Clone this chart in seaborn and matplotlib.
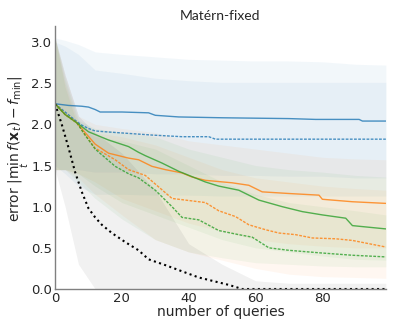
import numpy as np
import matplotlib
matplotlib.use("Agg")
import matplotlib.pyplot as plt
import seaborn as sns

# mean curves (x positions where the value was read, and the value)
blue_x = [0, 4, 8, 10, 12, 13.5, 20, 28, 30, 37, 50, 60, 70, 78, 91, 92, 99]
blue_y = [2.25, 2.23, 2.22, 2.21, 2.18, 2.15, 2.15, 2.14, 2.11, 2.09, 2.08, 2.075, 2.07, 2.06, 2.06, 2.04, 2.04]

blue_d_x = [0, 3, 6, 8, 10, 12, 15, 22, 29, 38, 46, 48, 99]
blue_d_y = [2.25, 2.15, 2.05, 1.99, 1.95, 1.92, 1.91, 1.89, 1.87, 1.85, 1.85, 1.82, 1.82]

orange_x = [0, 3, 6.5, 9, 12, 16, 22, 25, 29, 33, 38, 41, 45, 53, 58, 62, 70, 79, 80, 89, 99]
orange_y = [2.25, 2.12, 2.02, 1.90, 1.76, 1.65, 1.59, 1.57, 1.49, 1.45, 1.41, 1.36, 1.32, 1.29, 1.26, 1.18, 1.16, 1.14, 1.09, 1.06, 1.04]

green_x = [0, 3, 6.5, 10, 16, 22, 25, 27, 32, 37, 45, 49, 55, 61, 68, 74, 80, 87, 89, 99]
green_y = [2.25, 2.12, 2.02, 1.91, 1.81, 1.73, 1.66, 1.62, 1.53, 1.43, 1.30, 1.25, 1.20, 1.08, 1.00, 0.94, 0.90, 0.86, 0.77, 0.73]

orange_d_x = [0, 3, 6.5, 9, 12, 18, 22, 27, 31, 35, 41, 45, 49, 54, 58, 63, 67, 72, 77, 84, 89, 94, 99]
orange_d_y = [2.25, 2.12, 2.02, 1.87, 1.71, 1.57, 1.45, 1.38, 1.24, 1.10, 1.07, 1.05, 0.95, 0.88, 0.78, 0.72, 0.68, 0.66, 0.62, 0.61, 0.59, 0.55, 0.51]

green_d_x = [0, 3, 6.5, 9, 12, 18, 22, 25, 30, 35, 38, 43, 49, 55, 59, 64, 70, 79, 89, 99]
green_d_y = [2.25, 2.12, 2.02, 1.87, 1.70, 1.49, 1.40, 1.35, 1.20, 1.00, 0.87, 0.84, 0.71, 0.66, 0.63, 0.50, 0.47, 0.44, 0.41, 0.39]

black_x = [0, 2, 4, 6, 8, 10, 12, 14, 17, 21, 25, 28, 33, 37, 43, 48, 52, 56, 99]
black_y = [2.25, 2.0, 1.72, 1.42, 1.18, 0.98, 0.87, 0.78, 0.68, 0.57, 0.47, 0.36, 0.29, 0.23, 0.14, 0.09, 0.05, 0.0, 0.0]

# spread bands, read at shared x positions
band_x = [0, 3, 7, 12, 20, 30, 40, 50, 60, 70, 80, 90, 99]
blue_up = [3.05, 3.02, 2.97, 2.88, 2.85, 2.82, 2.79, 2.78, 2.77, 2.77, 2.76, 2.73, 2.72]
blue_lo = [1.45, 1.45, 1.45, 1.42, 1.42, 1.40, 1.40, 1.38, 1.38, 1.37, 1.37, 1.35, 1.35]
blue_d_up = [3.0, 2.95, 2.85, 2.66, 2.62, 2.56, 2.53, 2.51, 2.51, 2.51, 2.51, 2.51, 2.51]
blue_d_lo = [1.5, 1.4, 1.25, 1.15, 1.15, 1.14, 1.14, 1.13, 1.13, 1.13, 1.13, 1.13, 1.13]
orange_up = [3.05, 2.6, 2.1, 2.0, 1.95, 1.9, 1.8, 1.75, 1.7, 1.65, 1.6, 1.58, 1.57]
orange_lo = [1.45, 1.45, 1.4, 1.3, 1.1, 0.95, 0.8, 0.7, 0.6, 0.55, 0.52, 0.5, 0.5]
green_up = [3.05, 2.55, 2.05, 1.95, 1.9, 1.85, 1.7, 1.6, 1.5, 1.45, 1.42, 1.38, 1.36]
green_lo = [1.45, 1.45, 1.4, 1.25, 1.05, 0.9, 0.75, 0.6, 0.5, 0.45, 0.4, 0.36, 0.35]
orange_d_up = [3.05, 2.5, 2.0, 1.9, 1.85, 1.75, 1.6, 1.45, 1.35, 1.3, 1.25, 1.22, 1.2]
orange_d_lo = [1.45, 1.45, 1.35, 1.15, 0.9, 0.6, 0.45, 0.35, 0.25, 0.18, 0.15, 0.14, 0.13]
green_d_up = [3.05, 2.45, 1.95, 1.85, 1.8, 1.7, 1.5, 1.3, 1.15, 1.05, 1.0, 0.95, 0.9]
green_d_lo = [1.45, 1.45, 1.3, 1.1, 0.85, 0.6, 0.45, 0.38, 0.32, 0.3, 0.28, 0.27, 0.27]
black_up = [3.05, 2.6, 2.1, 1.9, 1.65, 1.2, 0.55, 0.3, 0.1, 0.07, 0.07, 0.07, 0.07]
black_lo = [1.45, 1.0, 0.3, 0.0, 0.0, 0.0, 0.0, 0.0, 0.0, 0.0, 0.0, 0.0, 0.0]

sns.set_style("white")
plt.rcParams["font.family"] = ["DejaVu Sans"]

fig, ax = plt.subplots(figsize=(3.99, 3.32), dpi=100)
fig.subplots_adjust(left=0.138, right=0.967, bottom=0.1295, top=0.923)

blue, orange, green = "#1f77b4", "#ff7f0e", "#2ca02c"

bands = [
    (blue_up, blue_lo, blue), (blue_d_up, blue_d_lo, blue),
    (orange_up, orange_lo, orange), (green_up, green_lo, green),
    (orange_d_up, orange_d_lo, orange), (green_d_up, green_d_lo, green),
    (black_up, black_lo, "black"),
]
for up, lo, c in bands:
    ax.fill_between(band_x, lo, up, color=c, alpha=0.055, lw=0)

sns.lineplot(x=blue_x, y=blue_y, color=blue, lw=1, alpha=0.8, ax=ax)
sns.lineplot(x=blue_d_x, y=blue_d_y, color=blue, lw=1, alpha=0.8, ax=ax).lines[-1].set_dashes((2, 1))
sns.lineplot(x=orange_x, y=orange_y, color=orange, lw=1, alpha=0.8, ax=ax)
sns.lineplot(x=green_x, y=green_y, color=green, lw=1, alpha=0.8, ax=ax)
sns.lineplot(x=orange_d_x, y=orange_d_y, color=orange, lw=1, alpha=0.8, ax=ax).lines[-1].set_dashes((2, 1))
sns.lineplot(x=green_d_x, y=green_d_y, color=green, lw=1, alpha=0.8, ax=ax).lines[-1].set_dashes((2, 1))
sns.lineplot(x=black_x, y=black_y, color="black", lw=1.5, ax=ax).lines[-1].set_dashes((1, 1.6))

ax.set_xlim(0, 99)
ax.set_ylim(0, 3.2)
ax.set_xticks([0, 20, 40, 60, 80])
ax.set_yticks([0.0, 0.5, 1.0, 1.5, 2.0, 2.5, 3.0])
ax.tick_params(labelsize=9.5, length=0, pad=2)
ax.set_xlabel("number of queries", fontsize=10, labelpad=0)
ax.set_ylabel(r"error $|\underset{t}{\min}\, f(\mathbf{x}_t) - f_{\min}|$", fontsize=10)
ax.yaxis.set_label_coords(-0.072, 0.53)
ax.set_title("Matérn-fixed", fontsize=10, family=["Lato", "DejaVu Sans"], pad=4)
sns.despine(ax=ax)
for s in ["left", "bottom"]:
    ax.spines[s].set_color("0.5")
    ax.spines[s].set_linewidth(1)

fig.savefig("out.png", dpi=100)
